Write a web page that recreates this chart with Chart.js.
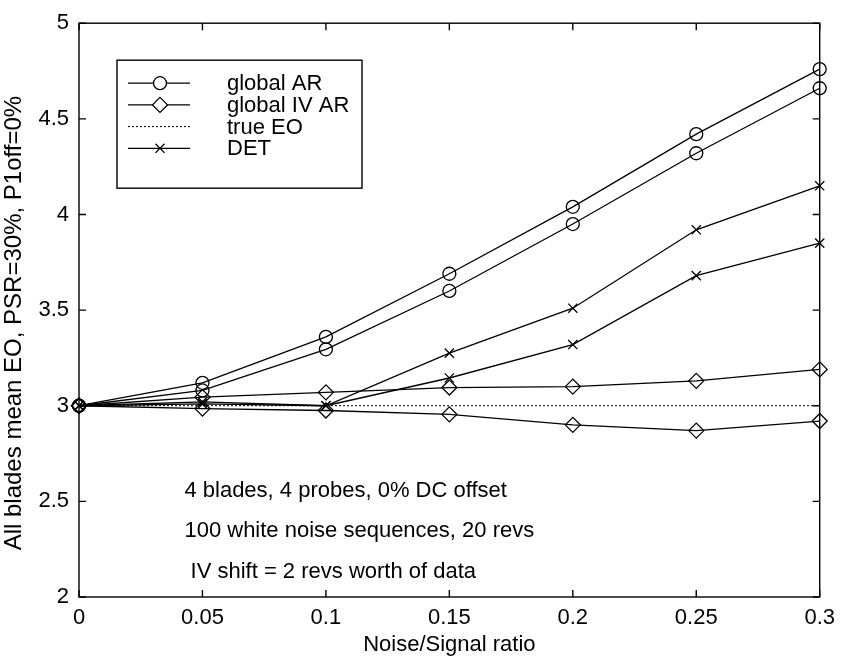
<!DOCTYPE html>
<html>
<head>
<meta charset="utf-8">
<script src="https://cdn.jsdelivr.net/npm/chart.js@4.4.0/dist/chart.umd.min.js"></script>
<style>
  html, body { margin: 0; padding: 0; background: #fff; }
</style>
</head>
<body>
<canvas id="eoChart" width="843" height="658"></canvas>
<script>
// noise/signal ratios sampled
const noiseRatio = [0, 0.05, 0.1, 0.15, 0.2, 0.25, 0.3];

// mean EO over all blades, two runs per method
const globalArHigh = [3, 3.12, 3.36, 3.69, 4.04, 4.42, 4.76];
const globalArLow  = [3, 3.08, 3.295, 3.60, 3.95, 4.32, 4.66];
const globalIvHigh = [3, 3.045, 3.07, 3.095, 3.10, 3.13, 3.19];
const globalIvLow  = [3, 2.985, 2.975, 2.955, 2.90, 2.87, 2.92];
const detHigh      = [3, 3.02, 3.0, 3.275, 3.51, 3.92, 4.15];
const detLow       = [3, 3.01, 3.0, 3.145, 3.32, 3.68, 3.85];
const trueEo       = [3, 3, 3, 3, 3, 3, 3];

const xTicks = [0, 0.05, 0.1, 0.15, 0.2, 0.25, 0.3];
const yTicks = [2, 2.5, 3, 3.5, 4, 4.5, 5];

const legendLabels = ['global AR', 'global IV AR', 'true EO', 'DET'];
const legendMarkers = ['circle', 'rectRot', false, 'crossRot'];

const yTitle = 'All blades mean EO, PSR=30%, P1off=0%';

const noteLines = [
  '4 blades, 4 probes, 0% DC offset',
  '100 white noise sequences, 20 revs',
  ' IV shift = 2 revs worth of data'
];
const noteX = [0.0427, 0.0427, 0.0427];
const noteY = [2.553, 2.347, 2.13];

const FONT = '"Liberation Sans", Arial, Helvetica, sans-serif';
Chart.defaults.font.family = FONT;
Chart.defaults.font.size = 22;
Chart.defaults.color = '#000';

const LINE_W = 1.3;
const markerRadius = { circle: 6.5, rectRot: 7.5, crossRot: 6.5 };

function series(values, marker, dashed) {
  return {
    data: noiseRatio.map((x, i) => ({ x: x, y: values[i] })),
    borderColor: '#000',
    borderWidth: dashed ? 1 : LINE_W,
    borderDash: dashed ? [2, 2] : [],
    pointStyle: marker || 'circle',
    pointRadius: marker ? markerRadius[marker] : 0,
    pointBorderColor: '#000',
    pointBackgroundColor: 'rgba(0,0,0,0)',
    pointBorderWidth: LINE_W,
    tension: 0,
    clip: false
  };
}

// box with inward ticks on all four sides
const frameTicks = {
  id: 'frameTicks',
  afterDatasetsDraw(chart) {
    const { ctx, chartArea: a, scales: { x, y } } = chart;
    ctx.save();
    ctx.strokeStyle = '#000';
    ctx.lineWidth = 1.4;
    ctx.strokeRect(a.left, a.top, a.right - a.left, a.bottom - a.top);
    ctx.beginPath();
    xTicks.forEach(v => {
      const px = x.getPixelForValue(v);
      ctx.moveTo(px, a.bottom); ctx.lineTo(px, a.bottom - 7);
      ctx.moveTo(px, a.top); ctx.lineTo(px, a.top + 7);
    });
    yTicks.forEach(v => {
      const py = y.getPixelForValue(v);
      ctx.moveTo(a.left, py); ctx.lineTo(a.left + 7, py);
      ctx.moveTo(a.right, py); ctx.lineTo(a.right - 7, py);
    });
    ctx.stroke();
    ctx.restore();
  }
};

// y axis label, rotated, sitting a little below the axis middle
const sideTitle = {
  id: 'sideTitle',
  afterDraw(chart) {
    const { ctx, chartArea: a } = chart;
    ctx.save();
    ctx.translate(14, (a.top + a.bottom) / 2 + 13);
    ctx.rotate(-Math.PI / 2);
    ctx.font = '24px ' + FONT;
    ctx.fillStyle = '#000';
    ctx.textAlign = 'center';
    ctx.textBaseline = 'middle';
    ctx.fillText(yTitle, 0, 0);
    ctx.restore();
  }
};

// legend box inside the axes, upper left
const boxLegend = {
  id: 'boxLegend',
  afterDraw(chart) {
    const { ctx, chartArea: a } = chart;
    const left = a.left + 38, top = a.top + 37, w = 245, h = 128;
    ctx.save();
    ctx.fillStyle = '#fff';
    ctx.fillRect(left, top, w, h);
    ctx.strokeStyle = '#000';
    ctx.lineWidth = 1.4;
    ctx.strokeRect(left, top, w, h);
    ctx.font = '22px ' + FONT;
    ctx.textBaseline = 'middle';
    legendLabels.forEach((label, i) => {
      const ry = top + 23 + i * 21.7;
      ctx.lineWidth = legendMarkers[i] ? LINE_W : 1;
      ctx.setLineDash(legendMarkers[i] ? [] : [2, 2]);
      ctx.beginPath();
      ctx.moveTo(left + 11, ry);
      ctx.lineTo(left + 73, ry);
      ctx.stroke();
      ctx.setLineDash([]);
      if (legendMarkers[i]) {
        ctx.fillStyle = '#fff';
        Chart.helpers.drawPoint(ctx, {
          pointStyle: legendMarkers[i],
          radius: markerRadius[legendMarkers[i]],
          borderWidth: LINE_W,
          rotation: 0
        }, left + 43, ry);
      }
      ctx.fillStyle = '#000';
      ctx.fillText(label, left + 110, ry + 1);
    });
    ctx.restore();
  }
};

// run description written inside the plot
const notes = {
  id: 'notes',
  afterDraw(chart) {
    const { ctx, scales: { x, y } } = chart;
    ctx.save();
    ctx.font = '22px ' + FONT;
    ctx.fillStyle = '#000';
    ctx.textBaseline = 'middle';
    noteLines.forEach((t, i) => {
      ctx.fillText(t, x.getPixelForValue(noteX[i]), y.getPixelForValue(noteY[i]));
    });
    ctx.restore();
  }
};

new Chart(document.getElementById('eoChart'), {
  type: 'line',
  data: {
    datasets: [
      series(trueEo, false, true),
      series(globalArHigh, 'circle'),
      series(globalArLow, 'circle'),
      series(globalIvHigh, 'rectRot'),
      series(globalIvLow, 'rectRot'),
      series(detHigh, 'crossRot'),
      series(detLow, 'crossRot')
    ]
  },
  options: {
    responsive: false,
    animation: false,
    layout: { padding: { top: 17, right: 20, left: 0, bottom: 0 } },
    scales: {
      x: {
        type: 'linear',
        min: 0,
        max: 0.3,
        grid: { display: false, drawTicks: false },
        border: { display: false },
        afterBuildTicks: s => { s.ticks = xTicks.map(v => ({ value: v })); },
        afterFit: s => { s.height = 61; },
        ticks: { padding: 8, maxRotation: 0, callback: v => String(v) },
        title: { display: true, text: 'Noise/Signal ratio', padding: 0 }
      },
      y: {
        type: 'linear',
        min: 2,
        max: 5,
        grid: { display: false, drawTicks: false },
        border: { display: false },
        afterBuildTicks: s => { s.ticks = yTicks.map(v => ({ value: v })); },
        afterFit: s => { s.width = 79; },
        ticks: { padding: 10, callback: v => String(v) },
        title: { display: false }
      }
    },
    plugins: {
      legend: { display: false },
      tooltip: { enabled: false }
    }
  },
  plugins: [frameTicks, boxLegend, notes, sideTitle]
});
</script>
</body>
</html>
